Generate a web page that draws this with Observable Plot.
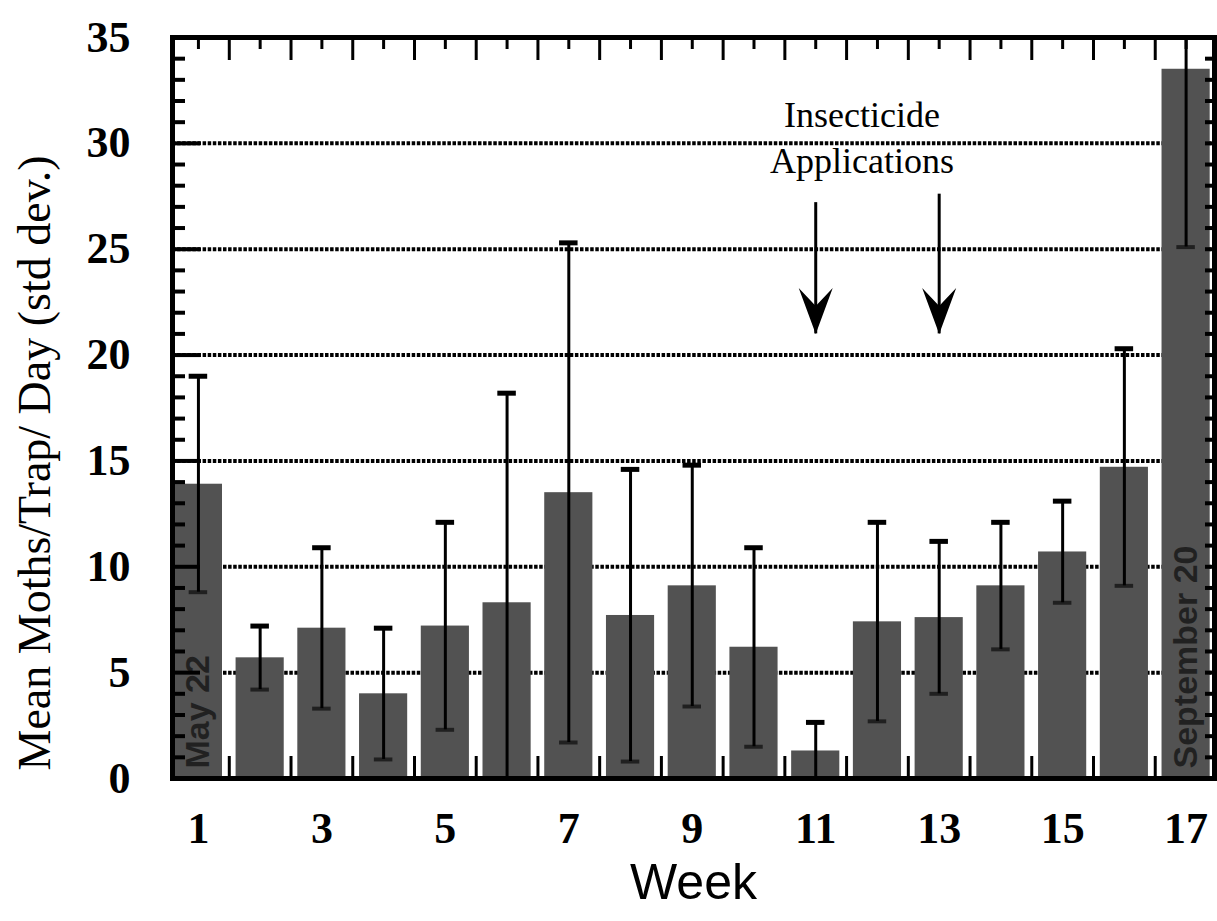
<!DOCTYPE html>
<html>
<head>
<meta charset="utf-8">
<script src="https://cdn.jsdelivr.net/npm/d3@7"></script>
<script src="https://cdn.jsdelivr.net/npm/@observablehq/plot@0.6"></script>
<style>
  html, body { margin: 0; padding: 0; background: #fff; }
  svg { display: block; }
</style>
</head>
<body>
<div id="chart"></div>
<script>
// ---- data ----
const weeks = [1, 2, 3, 4, 5, 6, 7, 8, 9, 10, 11, 12, 13, 14, 15, 16, 17];
const means = [13.9, 5.7, 7.1, 4.0, 7.2, 8.3, 13.5, 7.7, 9.1, 6.2, 1.3, 7.4, 7.6, 9.1, 10.7, 14.7, 33.5];
const sds   = [5.1, 1.5, 3.8, 3.1, 4.9, 9.9, 11.8, 6.9, 5.7, 4.7, 1.35, 4.7, 3.6, 3.0, 2.4, 5.6, 8.4];
const yTicks = [0, 5, 10, 15, 20, 25, 30, 35];
const gridValues = [5, 10, 15, 20, 25, 30];
const xTickLabels = [1, 3, 5, 7, 9, 11, 13, 15, 17];
const minorY = d3.range(0, 36, 1);
const halfWeeks = d3.range(1.5, 17, 1);
const applicationWeeks = [11, 13];
const arrowTops = [27.2, 27.6];
const arrowTips = [21.0, 21.0];
const annotationWeek = 11.75;
const dateWeeks = [1, 17];
const dateTexts = ["May 22", "September 20"];
const annotation = ["Insecticide", "Applications"];
const yLabel = "Mean Moths/Trap/ Day (std dev.)";
const xLabel = "Week";

// ---- tables built from the arrays ----
const data = weeks.map((w, i) => ({week: w, mean: means[i], lo: Math.max(0, means[i] - sds[i]), hi: means[i] + sds[i]}));
const arrows = applicationWeeks.map((w, i) => ({week: w, top: arrowTops[i], tip: arrowTips[i]}));
const dates = dateWeeks.map((w, i) => ({week: w, text: dateTexts[i]}));

const W = 1217, H = 921;
const mL = 172, mR = 3, mT = 37, mB = 143;
const frameW = W - mL - mR, frameH = H - mT - mB;
const serif = "Liberation Serif, Times New Roman, serif";

// notched arrowhead symbol, tip at origin pointing down
const arrowHead = {
  draw(ctx) {
    ctx.moveTo(0, 0);
    ctx.lineTo(17, -46);
    ctx.lineTo(0, -28);
    ctx.lineTo(-17, -46);
    ctx.closePath();
  }
};

const chart = Plot.plot({
  width: W,
  height: H,
  marginLeft: mL,
  marginRight: mR,
  marginTop: mT,
  marginBottom: mB,
  x: {type: "linear", domain: [0.58, 17.46], axis: null},
  y: {domain: [0, 35], axis: null},
  style: {background: "white", fontFamily: serif},
  marks: [
    // dotted gridlines
    Plot.ruleY(gridValues, {y: d => d, stroke: "black", strokeWidth: 4, strokeDasharray: "3.5,1.6"}),
    // bars
    Plot.rectY(data, {x1: d => d.week - 0.39, x2: d => d.week + 0.39, y: "mean", fill: "#525252"}),
    // date labels inside first and last bars
    Plot.text(dates, {x: "week", y: 0, text: "text", rotate: -90, textAnchor: "start", dy: -10,
      fill: "#111", fillOpacity: 0.75, fontSize: 34, fontWeight: "bold", fontFamily: "Liberation Sans, Arial, sans-serif"}),
    // error bars
    Plot.ruleX(data, {x: "week", y1: "lo", y2: "hi", stroke: "black", strokeWidth: 3, clip: true}),
    Plot.ruleY(data, {y: "hi", x1: d => d.week - 0.15, x2: d => d.week + 0.15, stroke: "black", strokeWidth: 5, clip: true}),
    Plot.ruleY(data.filter(d => d.lo > 0.3), {y: "lo", x1: d => d.week - 0.15, x2: d => d.week + 0.15, stroke: "black", strokeWidth: 4, strokeOpacity: 0.6}),
    // inward ticks: left
    Plot.ruleY(minorY.filter(v => v % 5 !== 0), {y: d => d, stroke: "black", strokeWidth: 4, insetRight: frameW - 13}),
    Plot.ruleY(yTicks, {y: d => d, stroke: "black", strokeWidth: 4, insetRight: frameW - 28}),
    // inward ticks: right
    Plot.ruleY(minorY, {y: d => d, stroke: "black", strokeWidth: 4, insetLeft: frameW - 9}),
    // inward ticks: top
    Plot.ruleX(weeks, {x: d => d, stroke: "black", strokeWidth: 3, insetBottom: frameH - 12}),
    Plot.ruleX(halfWeeks, {x: d => d, stroke: "black", strokeWidth: 3, insetBottom: frameH - 23}),
    // inward ticks: bottom
    Plot.ruleX(halfWeeks, {x: d => d, stroke: "black", strokeWidth: 3, insetTop: frameH - 22}),
    // frame
    Plot.frame({stroke: "black", strokeWidth: 5}),
    // tick labels
    Plot.text(yTicks, {y: d => d, text: d => String(d), frameAnchor: "left", dx: -42, textAnchor: "end",
      fontSize: 44, fontWeight: "bold", fontFamily: serif, fill: "black"}),
    Plot.text(xTickLabels, {x: d => d, text: d => String(d), frameAnchor: "bottom", dy: 50, lineAnchor: "middle",
      fontSize: 44, fontWeight: "bold", fontFamily: serif, fill: "black"}),
    // axis titles
    Plot.text([yLabel], {text: d => d, frameAnchor: "left", dx: -137, dy: 55, rotate: -90, textAnchor: "middle",
      fontSize: 46, fontFamily: serif, fill: "black", lineAnchor: "middle", letterSpacing: -0.5}),
    Plot.text([xLabel], {text: d => d, frameAnchor: "bottom", dy: 104, lineAnchor: "middle",
      fontSize: 50, fontFamily: "Liberation Sans, Arial, sans-serif", fill: "black"}),
    // annotation
    Plot.text([annotation.join("\n")], {x: annotationWeek, y: 35, text: d => d, dy: 98, lineAnchor: "middle",
      lineHeight: 1.28, fontSize: 36, fontFamily: serif, fill: "black"}),
    // arrows
    Plot.ruleX(arrows, {x: "week", y1: "top", y2: "tip", stroke: "black", strokeWidth: 3}),
    Plot.dot(arrows, {x: "week", y: "tip", symbol: arrowHead, fill: "black", stroke: "none", r: 10})
  ]
});

document.getElementById("chart").appendChild(chart);
</script>
</body>
</html>
